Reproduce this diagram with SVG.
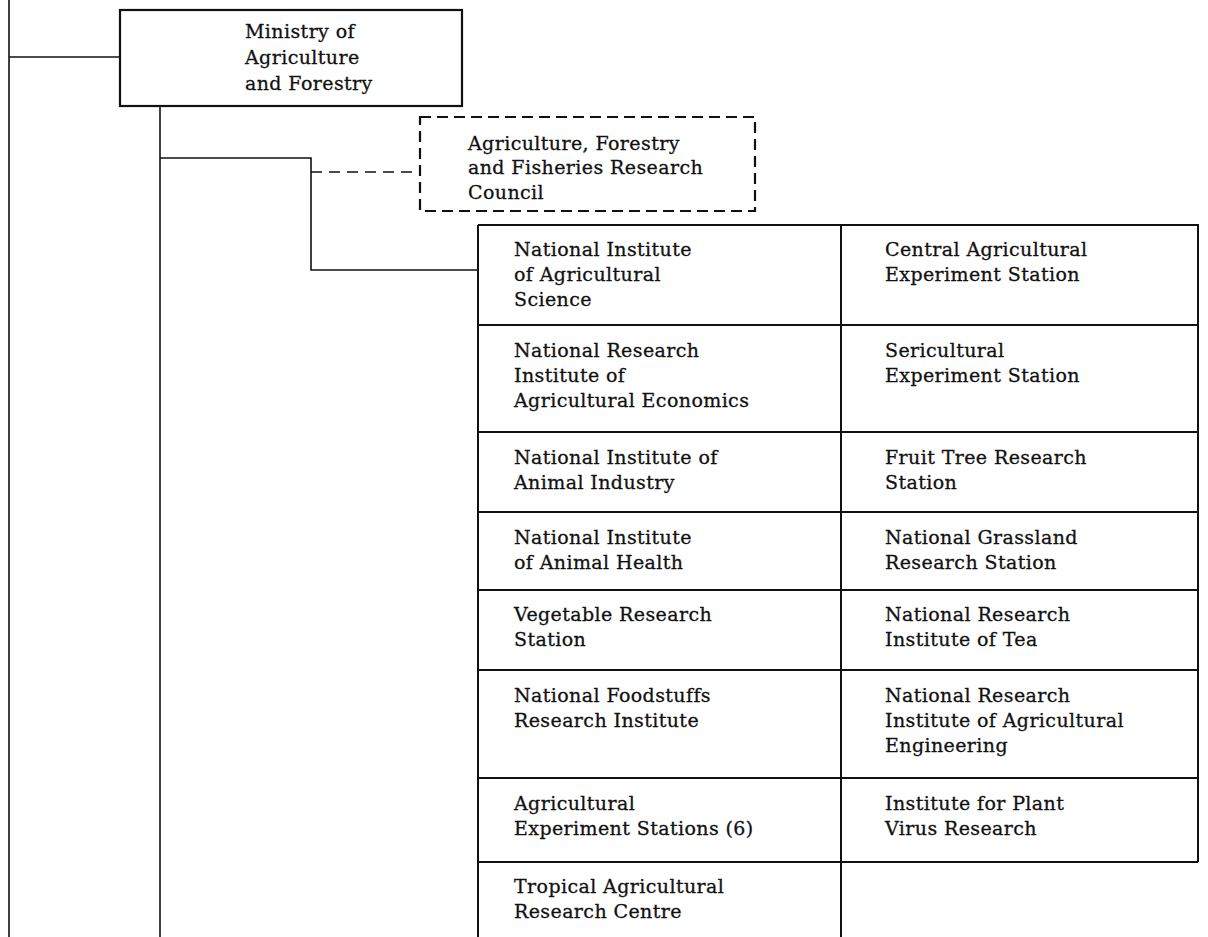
<svg xmlns="http://www.w3.org/2000/svg" width="1208" height="937" viewBox="0 0 1208 937">
<style>
.t{font-family:"DejaVu Serif","Liberation Serif",serif;font-size:19px;fill:#111;stroke:#111;stroke-width:0.3;letter-spacing:0.4px}
.box{fill:none;stroke:#111;stroke-width:2.2}
.dbox{fill:none;stroke:#111;stroke-width:2.2;stroke-dasharray:11 6}
.ln{fill:none;stroke:#111;stroke-width:1.6}
.dln{fill:none;stroke:#111;stroke-width:1.6;stroke-dasharray:11 7}
.grid{fill:none;stroke:#111;stroke-width:2}
</style>
<rect width="1208" height="937" fill="#fff"/>
<g id="connectors">
<path class="ln" d="M9 0V937M9 57H120"/>
<path class="ln" d="M160 107V937M160 158H311V270H478"/>
<path class="dln" d="M311 172H420"/>
</g>
<g id="ministry">
<rect class="box" x="120" y="10" width="342" height="96"/>
<text class="t" x="245" y="38">Ministry of</text>
<text class="t" x="245" y="64">Agriculture</text>
<text class="t" x="245" y="90">and Forestry</text>
</g>
<g id="council">
<rect class="dbox" x="420" y="117" width="335" height="94"/>
<text class="t" x="468" y="150">Agriculture, Forestry</text>
<text class="t" x="468" y="174">and Fisheries Research</text>
<text class="t" x="468" y="199">Council</text>
</g>
<g id="grid">
<path class="grid" d="M478 225V937M841 225V937M478 225H1198V862M478 325H1198M478 432H1198M478 512H1198M478 590H1198M478 670H1198M478 778H1198M478 862H1198"/>
</g>
<g id="nias"><text class="t" x="514" y="256">National Institute</text><text class="t" x="514" y="281">of Agricultural</text><text class="t" x="514" y="306">Science</text></g>
<g id="caes"><text class="t" x="885" y="256">Central Agricultural</text><text class="t" x="885" y="281">Experiment Station</text></g>
<g id="nriae"><text class="t" x="514" y="357">National Research</text><text class="t" x="514" y="382">Institute of</text><text class="t" x="514" y="407">Agricultural Economics</text></g>
<g id="ses"><text class="t" x="885" y="357">Sericultural</text><text class="t" x="885" y="382">Experiment Station</text></g>
<g id="niai"><text class="t" x="514" y="464">National Institute of</text><text class="t" x="514" y="489">Animal Industry</text></g>
<g id="ftrs"><text class="t" x="885" y="464">Fruit Tree Research</text><text class="t" x="885" y="489">Station</text></g>
<g id="niah"><text class="t" x="514" y="544">National Institute</text><text class="t" x="514" y="569">of Animal Health</text></g>
<g id="ngrs"><text class="t" x="885" y="544">National Grassland</text><text class="t" x="885" y="569">Research Station</text></g>
<g id="vrs"><text class="t" x="514" y="621">Vegetable Research</text><text class="t" x="514" y="646">Station</text></g>
<g id="nrit"><text class="t" x="885" y="621">National Research</text><text class="t" x="885" y="646">Institute of Tea</text></g>
<g id="nfri"><text class="t" x="514" y="702">National Foodstuffs</text><text class="t" x="514" y="727">Research Institute</text></g>
<g id="nriaen"><text class="t" x="885" y="702">National Research</text><text class="t" x="885" y="727">Institute of Agricultural</text><text class="t" x="885" y="752">Engineering</text></g>
<g id="aes"><text class="t" x="514" y="810">Agricultural</text><text class="t" x="514" y="835">Experiment Stations (6)</text></g>
<g id="ipvr"><text class="t" x="885" y="810">Institute for Plant</text><text class="t" x="885" y="835">Virus Research</text></g>
<g id="tarc"><text class="t" x="514" y="893">Tropical Agricultural</text><text class="t" x="514" y="918">Research Centre</text></g>
</svg>
